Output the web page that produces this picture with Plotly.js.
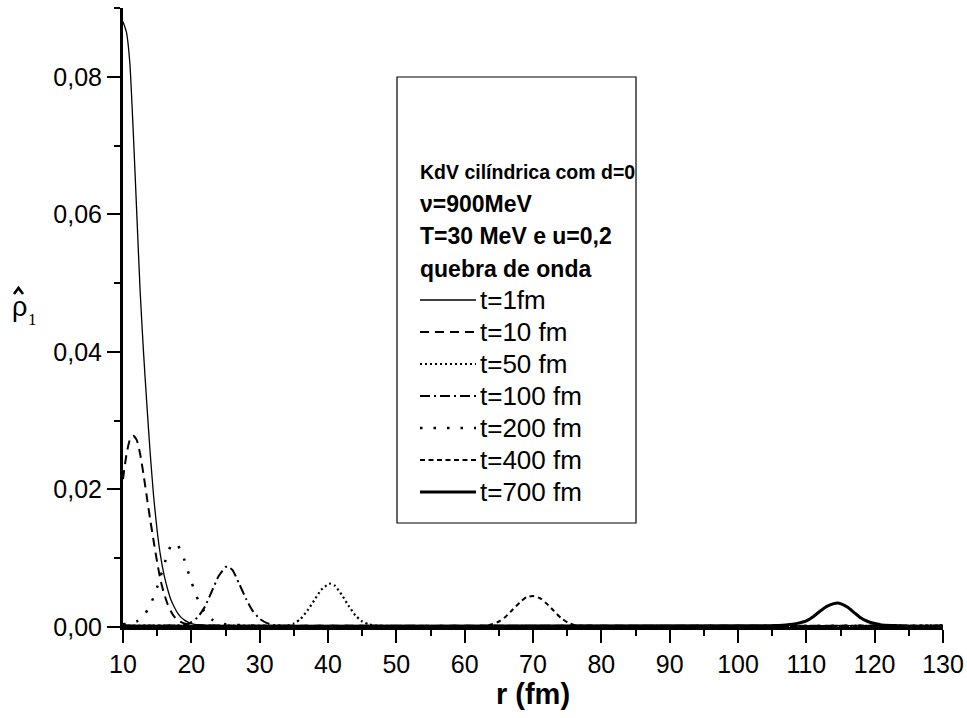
<!DOCTYPE html>
<html>
<head>
<meta charset="utf-8">
<script src="https://cdn.plot.ly/plotly-3.0.1.min.js"></script>
<style>html,body{margin:0;padding:0;background:#fff;}#chart{width:967px;height:718px;}</style>
</head>
<body>
<div id="chart"></div>
<script>
// ---- data ----
const seriesNames = ["t=1fm", "t=10 fm", "t=50 fm", "t=100 fm", "t=200 fm", "t=400 fm", "t=700 fm"];

const r_t1   = [10, 10.5, 11, 11.5, 12, 12.5, 13, 13.5, 14, 14.5, 15, 15.5, 16, 16.5, 17, 17.5, 18, 18.5, 19, 19.5, 20, 21, 25, 130];
const rho_t1 = [0.0880, 0.0865, 0.0820, 0.0720, 0.0605, 0.0490, 0.0400, 0.0322, 0.0250, 0.0188, 0.0140, 0.0103, 0.0076, 0.0056, 0.0040, 0.0029, 0.0020, 0.0014, 0.0010, 0.0007, 0.0005, 0.0003, 0.0002, 0.0002];

const r_t10   = [10, 10.5, 11, 11.5, 12, 12.5, 13, 13.5, 14, 14.5, 15, 15.5, 16, 16.5, 17, 17.5, 18, 19, 20, 25, 130];
const rho_t10 = [0.0215, 0.0250, 0.0272, 0.0278, 0.0272, 0.0252, 0.0222, 0.0188, 0.0155, 0.0124, 0.0094, 0.0068, 0.0049, 0.0034, 0.0023, 0.0015, 0.0010, 0.0005, 0.0003, 0.0002, 0.0002];

const r_t50   = [10, 30, 34, 35, 36, 37, 38, 39, 40, 40.3, 41, 42, 43, 44, 45, 46, 47, 130];
const rho_t50 = [0.0002, 0.0002, 0.0002, 0.0005, 0.0012, 0.0024, 0.0039, 0.0054, 0.0062, 0.0063, 0.0060, 0.0047, 0.0031, 0.0017, 0.0008, 0.0004, 0.0002, 0.0002];

const r_t100   = [10, 19, 20, 21, 22, 23, 24, 25, 25.3, 26, 27, 28, 29, 30, 31, 32, 130];
const rho_t100 = [0.0002, 0.0003, 0.0007, 0.0015, 0.0030, 0.0052, 0.0074, 0.0087, 0.0088, 0.0083, 0.0063, 0.0041, 0.0023, 0.0012, 0.0006, 0.0003, 0.0002];

const r_t200   = [10, 12, 13, 14, 15, 16, 16.5, 17, 17.5, 18, 18.5, 19, 20, 21, 22, 23, 24, 25, 30, 130];
const rho_t200 = [0.0004, 0.0008, 0.0016, 0.0032, 0.0058, 0.0090, 0.0106, 0.0118, 0.0122, 0.0119, 0.0110, 0.0097, 0.0066, 0.0039, 0.0021, 0.0011, 0.0006, 0.0004, 0.0002, 0.0002];

const r_t400   = [10, 63, 64, 65, 66, 67, 68, 69, 70, 71, 72, 73, 74, 75, 76, 77, 130];
const rho_t400 = [0.0002, 0.0002, 0.0004, 0.0008, 0.0015, 0.0025, 0.0035, 0.0043, 0.0045, 0.0042, 0.0034, 0.0024, 0.0014, 0.0007, 0.0003, 0.0002, 0.0002];

const r_t700   = [10, 105, 107, 108, 109, 110, 111, 112, 113, 114, 114.6, 115, 116, 117, 118, 119, 120, 121, 123, 125, 130];
const rho_t700 = [0.0001, 0.0002, 0.0003, 0.0004, 0.0006, 0.0009, 0.0015, 0.0023, 0.0030, 0.0034, 0.0035, 0.0034, 0.0029, 0.0021, 0.0013, 0.0008, 0.0005, 0.0003, 0.0002, 0.0001, 0.0001];

const xTickVals = [10, 20, 30, 40, 50, 60, 70, 80, 90, 100, 110, 120, 130];
const yTickVals = [0, 0.02, 0.04, 0.06, 0.08];
const boxLines = ["KdV cilíndrica com d=0", "ν=900MeV", "T=30 MeV e u=0,2", "quebra de onda"];

// ---- styling ----
const FONT = "Liberation Sans, Arial, Helvetica, sans-serif";
const xs = [r_t1, r_t10, r_t50, r_t100, r_t200, r_t400, r_t700];
const ys = [rho_t1, rho_t10, rho_t50, rho_t100, rho_t200, rho_t400, rho_t700];
const lineStyles = [
  {width: 1.3, dash: "solid"},
  {width: 2, dash: "9px,6px"},
  {width: 2.2, dash: "2px,3px"},
  {width: 2, dash: "10px,4px,2px,4px"},
  {width: 2.5, dash: "2.5px,11px"},
  {width: 2, dash: "5px,3.5px"},
  {width: 3, dash: "solid"}
];
const boxLineSizes = [19.5, 23, 23, 23];

const traces = seriesNames.map((n, i) => ({
  type: "scatter", mode: "lines", name: n, showlegend: false,
  x: xs[i], y: ys[i],
  line: Object.assign({color: "#000", shape: "spline", smoothing: 0.6}, lineStyles[i]),
  hoverinfo: "skip"
}));

// plot-area pixel helpers (for overlay placement only)
const L = 123, R = 24, T = 8, B = 91, W = 967, H = 718;
const pw = W - L - R, ph = H - T - B;
const px = v => (v - L) / pw;
const py = v => (H - B - v) / ph;

const annotations = boxLines.map((t, i) => ({
  xref: "paper", yref: "paper", x: px(418), y: py(172 + i * 32.2),
  xanchor: "left", yanchor: "middle", showarrow: false,
  text: "<b>" + t + "</b>", font: {family: FONT, size: boxLineSizes[i], color: "#000"}
}));

const shapes = [{
  type: "rect", xref: "paper", yref: "paper",
  x0: px(397), x1: px(636), y0: py(523), y1: py(77),
  line: {color: "#000", width: 1.2}, fillcolor: "rgba(0,0,0,0)"
}];

// legend (drawn inside the box): sample line + label per series
seriesNames.forEach((n, i) => {
  const yy = py(300 + i * 32);
  shapes.push({
    type: "line", xref: "paper", yref: "paper",
    x0: px(420), x1: px(476), y0: yy, y1: yy,
    line: Object.assign({color: "#000"}, lineStyles[i])
  });
  annotations.push({
    xref: "paper", yref: "paper", x: px(478), y: yy,
    xanchor: "left", yanchor: "middle", showarrow: false,
    text: n, font: {family: FONT, size: 26, color: "#000"}
  });
});

// y-axis label: rho with hat and subscript 1
annotations.push(
  {xref: "paper", yref: "paper", x: px(19), y: py(307), xanchor: "center", yanchor: "middle", showarrow: false,
   text: "ρ", font: {family: FONT, size: 27, color: "#000"}},
  {xref: "paper", yref: "paper", x: px(32), y: py(320), xanchor: "center", yanchor: "middle", showarrow: false,
   text: "1", font: {family: "Liberation Serif, Times New Roman, serif", size: 17, color: "#000"}}
);
shapes.push({
  type: "path", xref: "paper", yref: "paper",
  path: "M" + px(14) + "," + py(294) + " L" + px(18.5) + "," + py(288) + " L" + px(23) + "," + py(294),
  line: {color: "#000", width: 2.6}
});

const layout = {
  width: W, height: H,
  margin: {l: L, r: R, t: T, b: B, pad: 0},
  paper_bgcolor: "#fff", plot_bgcolor: "#fff",
  separators: ", ",
  font: {family: FONT, color: "#000", size: 24},
  showlegend: false,
  xaxis: {
    range: [10, 130], tickvals: xTickVals, ticktext: xTickVals.map(String),
    ticks: "outside", ticklen: 13, tickwidth: 2, tickcolor: "#000",
    showline: true, linewidth: 3, linecolor: "#000", mirror: false,
    showgrid: false, zeroline: false,
    tickfont: {family: FONT, size: 25, color: "#000"},
    minor: {dtick: 5, tick0: 10, ticks: "outside", ticklen: 6, tickwidth: 2, tickcolor: "#000", showgrid: false},
    title: {text: "<b>r (fm)</b>", font: {family: FONT, size: 29, color: "#000"}, standoff: 6}
  },
  yaxis: {
    range: [0, 0.09], tickvals: yTickVals, tickformat: ".2f",
    ticks: "outside", ticklen: 13, tickwidth: 2, tickcolor: "#000",
    showline: true, linewidth: 3, linecolor: "#000", mirror: false,
    showgrid: false, zeroline: false,
    tickfont: {family: FONT, size: 25, color: "#000"},
    minor: {dtick: 0.01, tick0: 0, ticks: "outside", ticklen: 6, tickwidth: 2, tickcolor: "#000", showgrid: false}
  },
  shapes: shapes,
  annotations: annotations
};

Plotly.newPlot("chart", traces, layout, {displayModeBar: false, staticPlot: true});
</script>
</body>
</html>
